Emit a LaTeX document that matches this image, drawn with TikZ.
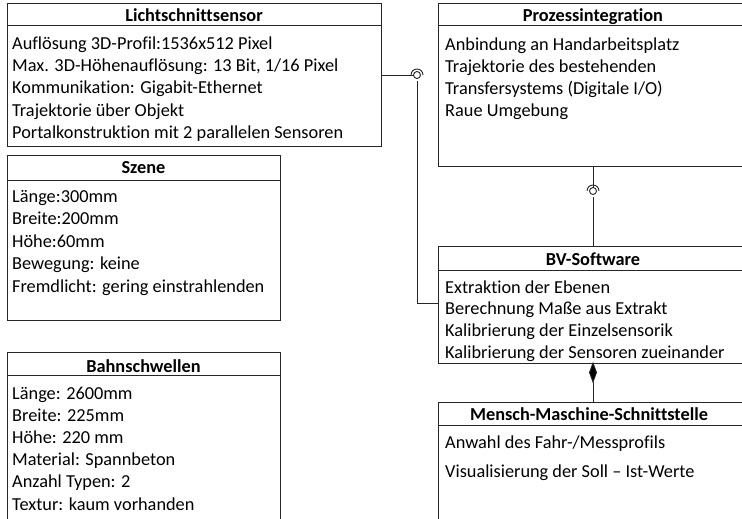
\documentclass[tikz,border=0pt]{standalone}
\usepackage{fontspec}
\setmainfont{Carlito}[Ligatures={TeX,CommonOff}]
\begin{document}
\begin{tikzpicture}[x=1pt,y=-1pt,
  ln/.style={line width=0.9pt, draw=black!85},
  umlbox/.style={ln, rectangle, inner sep=0pt, outer sep=0pt, anchor=north west},
  txt/.style={anchor=base west, inner sep=0pt, font=\fontsize{18.3}{22}\selectfont},
  ttl/.style={anchor=base, inner sep=0pt, font=\bfseries\fontsize{18.3}{22}\selectfont},
  ball/.style={ln, circle, inner sep=0pt, minimum size=7pt, outer sep=0pt}]
\useasboundingbox (0,0) rectangle (742,519);

% Lichtschnittsensor
\node[umlbox, minimum width=374pt, minimum height=143pt] (ls) at (7,3) {};
\draw[ln] (ls.west |- 0,25) -- (ls.east |- 0,25);
\node[ttl] (lsT) at (194,22) {Lichtschnittsensor};
\foreach \t [count=\i] in {Auflösung 3D-Profil:1536x512 Pixel,{Max. 3D-Höhenauflösung: 13 Bit, 1/16 Pixel},Kommunikation: Gigabit-Ethernet,Trajektorie über Objekt,Portalkonstruktion mit 2 parallelen Sensoren}
  \node[txt] (ls\i) at (12,{50+22*(\i-1)}) {\t};

% Szene
\node[umlbox, minimum width=273pt, minimum height=165pt] (sz) at (7,155) {};
\draw[ln] (sz.west |- 0,180) -- (sz.east |- 0,180);
\node[ttl] (szT) at (143.5,173) {Szene};
\foreach \t [count=\i] in {Länge:300mm,Breite:200mm,Höhe:60mm,Bewegung: keine,Fremdlicht: gering einstrahlenden}
  \node[txt] (sz\i) at (12,{202+22.5*(\i-1)}) {\t};

% Bahnschwellen
\node[umlbox, minimum width=273pt, minimum height=175pt] (bs) at (7,352) {};
\draw[ln] (bs.west |- 0,375) -- (bs.east |- 0,375);
\node[ttl] (bsT) at (143.5,372) {Bahnschwellen};
\foreach \t [count=\i] in {Länge: 2600mm,Breite: 225mm,Höhe: 220 mm,Material: Spannbeton,Anzahl Typen: 2,Textur: kaum vorhanden}
  \node[txt] (bs\i) at (12,{399+22.2*(\i-1)}) {\t};

% Prozessintegration
\node[umlbox, minimum width=310pt, minimum height=163pt] (pz) at (438,3) {};
\draw[ln] (pz.west |- 0,25) -- (pz.east |- 0,25);
\node[ttl] (pzT) at (593,22) {Prozessintegration};
\foreach \t [count=\i] in {Anbindung an Handarbeitsplatz,Trajektorie des bestehenden,Transfersystems (Digitale I/O),Raue Umgebung}
  \node[txt] (pz\i) at (445,{51+22*(\i-1)}) {\t};

% BV-Software
\node[umlbox, minimum width=310pt, minimum height=117pt] (bv) at (438,246) {};
\draw[ln] (bv.west |- 0,270) -- (bv.east |- 0,270);
\node[ttl] (bvT) at (593,265) {BV-Software};
\foreach \t [count=\i] in {Extraktion der Ebenen,Berechnung Maße aus Extrakt,Kalibrierung der Einzelsensorik,Kalibrierung der Sensoren zueinander}
  \node[txt] (bv\i) at (445,{293+21.7*(\i-1)}) {\t};

% Mensch-Maschine-Schnittstelle
\node[umlbox, minimum width=310pt, minimum height=125pt] (mm) at (438,402) {};
\draw[ln] (mm.west |- 0,425) -- (mm.east |- 0,425);
\node[ttl] (mmT) at (589,420) {Mensch-Maschine-Schnittstelle};
\foreach \t [count=\i] in {Anwahl des Fahr-/Messprofils,Visualisierung der Soll – Ist-Werte}
  \node[txt] (mm\i) at (445,{448+29*(\i-1)}) {\t};

% Interface Lichtschnittsensor -> BV-Software
\node[ball] (ball1) at (417,75) {};
\draw[ln] (ls.east |- ball1.west) -- (ball1.west);
\draw[ln] ([xshift=6pt]ball1.center) arc[start angle=0, end angle=180, radius=6pt];
\coordinate (sock1) at ([yshift=-6pt]ball1.center);
\draw[ln] (sock1) |- (bv.west |- 0,303);

% Interface Prozessintegration -> BV-Software
\node[ball] (ball2) at (593,191) {};
\draw[ln] (pz.south) -- (ball2.north);
\draw[ln] ([xshift=6pt]ball2.center) arc[start angle=0, end angle=180, radius=6pt];
\coordinate (sock2) at ([yshift=-6pt]ball2.center);
\draw[ln] (sock2) -- (bv.north);

% Composition BV-Software <>- MMS
\coordinate (diaB) at ([yshift=-19pt]bv.south);
\draw[ln, fill=black] (bv.south) -- ++(3.5,9.5) -- (diaB) -- ++(-3.5,-9.5) -- cycle;
\draw[ln] (diaB) -- (mm.north);
\end{tikzpicture}
\end{document}
